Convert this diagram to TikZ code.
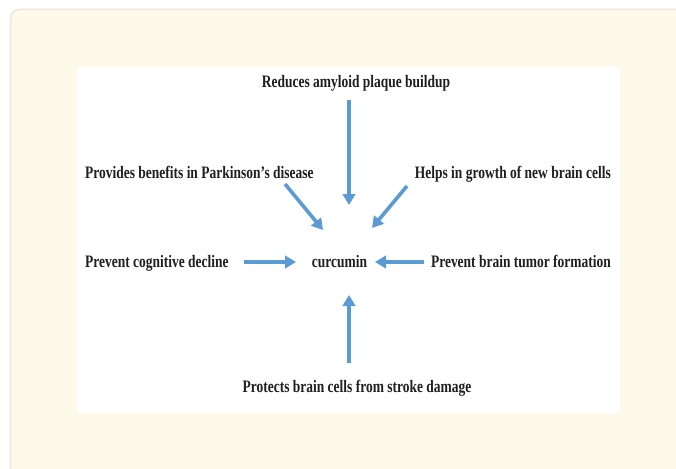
\documentclass[tikz,border=0pt]{standalone}
\usepackage{fontspec}
\setmainfont{Liberation Serif}[FakeStretch=0.77]
\usetikzlibrary{arrows.meta}
\definecolor{cream}{HTML}{FEFAE9}
\definecolor{rimgray}{HTML}{ECE8DC}
\definecolor{arrowblue}{HTML}{5B9BD5}
\tikzset{
  lbl/.style={inner sep=0pt, font=\fontsize{17.5}{20}\selectfont\bfseries, text=black!88},
  arr/.style={draw=arrowblue, line width=3.6pt, -{Triangle[length=11pt,width=12.5pt]}}
}
\begin{document}
\begin{tikzpicture}[x=1pt,y=-1pt]
\useasboundingbox (0,0) rectangle (676,468);
\fill[white] (0,0) rectangle (676,468);
\draw[rimgray, fill=cream, line width=1.5pt, rounded corners=9pt] (10.5,9.5) rectangle (700,500);
\fill[white] (77,67) rectangle (620,413);

\node[lbl, anchor=base] (top) at (356,88) {Reduces amyloid plaque buildup};
\node[lbl, anchor=base west] (park) at (85,178) {Provides benefits in Parkinson’s disease};
\node[lbl, anchor=base east] (grow) at (611,178) {Helps in growth of new brain cells};
\node[lbl, anchor=base west] (cog) at (85,267) {Prevent cognitive decline};
\node[lbl, anchor=base east] (tumor) at (611,267) {Prevent brain tumor formation};
\node[lbl, anchor=base] (stroke) at (357,392) {Protects brain cells from stroke damage};
\node[lbl, anchor=base] (cur) at (339.5,267) {curcumin};

\coordinate (t1) at (349,100);  \coordinate (h1) at (349,205);
\coordinate (t2) at (285,184);  \coordinate (h2) at (323,230);
\coordinate (t3) at (407,186);  \coordinate (h3) at (372,228);
\coordinate (t4) at (244,262);  \coordinate (h4) at (296,262);
\coordinate (t5) at (424,262);  \coordinate (h5) at (375,262);
\coordinate (t6) at (349,363);  \coordinate (h6) at (349,295);

\draw[arr] (t1) -- (h1);
\draw[arr] (t2) -- (h2);
\draw[arr] (t3) -- (h3);
\draw[arr] (t4) -- (h4);
\draw[arr] (t5) -- (h5);
\draw[arr] (t6) -- (h6);
\end{tikzpicture}
\end{document}
